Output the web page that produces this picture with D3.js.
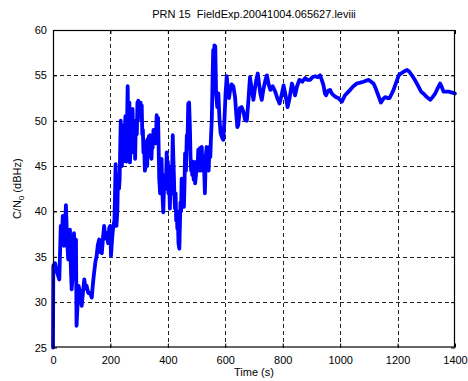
<!DOCTYPE html>
<html>
<head>
<meta charset="utf-8">
<script src="https://cdn.jsdelivr.net/npm/d3@7"></script>
<style>
  html, body { margin: 0; padding: 0; background: #fff; }
  svg { display: block; font-family: "Liberation Sans", Arial, Helvetica, sans-serif; }
</style>
</head>
<body>
<svg id="chart" width="468" height="381"></svg>
<script>
// Carrier-to-noise density over time for one satellite
const timeS = [
  0, 1, 7, 12, 15, 22, 27, 31, 34, 38, 42, 45, 49, 53, 56, 59, 62, 65, 69, 73,
  76, 80, 82, 86, 89, 92, 96, 100, 104, 109, 113, 117, 123, 129, 135, 139, 143, 148, 152, 156,
  161, 165, 170, 174, 178, 183, 187, 192, 196, 199,
  202, 206, 210, 214, 216, 218, 220, 221, 224, 226, 228, 230, 232, 234, 236, 238, 240, 242, 244, 246,
  248, 250, 252, 254, 256, 258, 260, 262, 264, 266, 268, 270, 272, 275, 277, 279, 281, 284, 286, 288,
  290, 292, 294, 297, 300, 302, 305, 307, 309, 311, 313, 315, 317, 320, 323, 326, 328, 330, 332, 334,
  336, 338, 340, 343, 345, 347, 350, 352, 356, 358, 361, 364, 366, 368, 370, 373, 375, 378, 381, 384,
  387, 390, 393, 396, 398, 400, 402, 404, 407, 409, 412, 414, 417, 419, 421, 423, 425, 427, 429, 431,
  433, 435, 437, 440, 442, 444, 446, 448, 450, 452, 454, 456, 458, 460, 463, 466, 468, 471, 474, 477,
  479, 481, 483, 485, 488, 490, 493, 495, 498, 500, 503, 506, 508, 510, 512, 514, 516, 518, 520, 522,
  524, 526, 529, 532, 535, 538, 540, 542, 545, 548, 550, 553, 556, 558, 560, 562, 565,
  568, 572, 576, 580, 584, 588, 593, 597, 601, 605, 609, 613, 617, 622, 628, 634, 638, 642, 645, 651,
  657, 663, 669, 675, 680, 686, 692, 698, 703, 708, 713, 718, 722, 727, 733, 740, 745, 751, 757, 765,
  774, 781, 789, 796, 803, 810, 817, 824, 832, 838, 843, 850, 858, 868, 878, 886, 895, 904, 913, 922,
  930, 936, 942, 947, 951, 958, 965, 971, 977, 985, 994, 1000, 1006, 1012, 1017, 1026, 1035, 1046, 1058, 1070,
  1081, 1090, 1099, 1108, 1116, 1122, 1128, 1135, 1142, 1150, 1157, 1165, 1172, 1180, 1186, 1195, 1204, 1212, 1221, 1233,
  1241, 1250, 1262, 1273, 1282, 1290, 1302, 1314, 1322, 1331, 1340, 1348, 1354, 1360, 1369, 1378, 1390, 1400
];
const cn0 = [
  25, 34, 34.3, 33.5, 33.2, 32.5, 38.4, 37, 39.5, 36.2, 38.5, 40.7, 37, 34.7, 36.5, 38, 34, 31.4, 33, 37.6,
  35, 36.9, 27.4, 30, 31.8, 31.4, 30.5, 29.6, 31, 32.5, 31.5, 31.8, 31, 31, 30.5, 32, 33.2, 34.5, 35.1, 36.3,
  36.9, 35.5, 35.4, 37, 38.4, 37, 37.6, 36.5, 38.2, 38.4,
  35.1, 37, 38.4, 39, 42, 45.2, 41, 38.4, 40, 43, 44, 42.5, 43.5, 47, 50, 46, 45, 49.5, 47.5, 45.5,
  49, 47, 50.5, 48, 45.5, 50, 53.8, 50, 48, 52, 45.4, 47, 49, 46.5, 51.3, 49, 47.5, 50, 45.8, 49,
  50, 48.5, 52, 52.2, 50.5, 51, 52, 50, 51.7, 48.5, 49, 46.5, 47.8, 44.5, 45, 46.5, 45, 48, 46, 48.3,
  47, 48.4, 46.5, 45.8, 48, 47, 49, 48.5, 49, 47.5, 50.6, 49, 50.3, 47, 43.6, 42, 44, 45.8, 42, 39.9,
  43, 44, 42.5, 46.5, 44, 45.5, 42, 44, 40.3, 43, 45, 42, 48.4, 46, 44, 41.5, 40.3, 42, 39, 40,
  38.1, 39, 36.5, 35.9, 38.5, 41, 40, 43.6, 41.5, 42.9, 41, 40.5, 43, 46.4, 44.5, 48.4, 47, 51.9, 52, 49,
  46, 44.5, 45.5, 44, 45.5, 43.5, 44.5, 43.1, 44, 45.5, 44.5, 46.8, 44.5, 45, 47, 46.5, 44.5, 47.1, 45.5, 46,
  44.5, 45, 42, 46, 47.1, 45, 46, 44.5, 47.1, 46, 48, 50.1, 55, 57.8, 55, 58.3, 58.2,
  53, 51.5, 53, 50, 48.6, 48.2, 47.9, 50, 53, 54.9, 53.5, 52.5, 53.4, 54, 53.8, 52.6, 50.8, 49.3, 49.5, 51.4,
  51.5, 51, 50.1, 50, 52, 54.8, 53.5, 52.3, 53.5, 54.5, 55.2, 54, 53, 52.3, 53.5, 54.5, 55, 54, 53.4, 53.8,
  53.2, 52.5, 51.9, 52.8, 53.9, 52.8, 51.5, 52.5, 54.1, 53.5, 52.8, 53.8, 54.5, 54.3, 54.7, 54.5, 54.5, 54.8, 54.9, 54.8,
  55, 54.5, 53.9, 53, 52.8, 53.3, 53.4, 53, 52.8, 52.6, 52.5, 52.3, 52.1, 52.5, 52.8, 53.1, 53.4, 53.8, 54.1, 54.2,
  54.3, 54.4, 54.5, 54.3, 54.1, 53.7, 53.2, 52.6, 52, 52.4, 52.6, 52.5, 52.5, 53, 53.4, 54.2, 55, 55.2, 55.4, 55.6,
  55.4, 55, 54.4, 53.75, 53.2, 53, 52.6, 52.3, 52.6, 53, 53.6, 54.1, 53.7, 53.2, 53.2, 53.2, 53.1, 53
];
const xTicks = [0, 200, 400, 600, 800, 1000, 1200, 1400];
const yTicks = [25, 30, 35, 40, 45, 50, 55, 60];
const titleText = "PRN 15  FieldExp.20041004.065627.leviii";

const svg = d3.select("#chart");
const m = { left: 53, right: 455, top: 30, bottom: 347.5 };

const x = d3.scaleLinear().domain([0, 1400]).range([m.left, m.right]);
const y = d3.scaleLinear().domain([25, 60]).range([m.bottom, m.top]);

// dashed grid
const grid = svg.append("g").attr("stroke", "#222").attr("stroke-width", 1)
  .attr("stroke-dasharray", "4,3").attr("shape-rendering", "crispEdges");
grid.selectAll("line.gx").data(xTicks.slice(1, -1)).join("line")
  .attr("x1", d => Math.round(x(d)) + 0.5).attr("x2", d => Math.round(x(d)) + 0.5)
  .attr("y1", m.top).attr("y2", m.bottom);
grid.selectAll("line.gy").data(yTicks.slice(1, -1)).join("line")
  .attr("y1", d => Math.round(y(d)) + 0.5).attr("y2", d => Math.round(y(d)) + 0.5)
  .attr("x1", m.left).attr("x2", m.right);

// data trace
const line = d3.line().x((d, i) => x(timeS[i])).y(d => y(d));
svg.append("path")
  .datum(cn0)
  .attr("d", line)
  .attr("fill", "none")
  .attr("stroke", "#0000ff")
  .attr("stroke-width", 3.8)
  .attr("stroke-linejoin", "round")
  .attr("stroke-linecap", "round");

// axes (ticks pointing inward)
const fmt = d3.format("d");
svg.append("g").attr("transform", `translate(0,${m.bottom})`)
  .call(d3.axisBottom(x).tickValues(xTicks).tickFormat(fmt).tickSizeInner(-4).tickSizeOuter(0).tickPadding(9));
svg.append("g").attr("transform", `translate(${m.left},0)`)
  .call(d3.axisLeft(y).tickValues(yTicks).tickFormat(fmt).tickSizeInner(-4).tickSizeOuter(0).tickPadding(6));
svg.append("g").attr("transform", `translate(0,${m.top})`)
  .call(d3.axisTop(x).tickValues(xTicks).tickFormat("").tickSizeInner(-4).tickSizeOuter(0));
svg.append("g").attr("transform", `translate(${m.right},0)`)
  .call(d3.axisRight(y).tickValues(yTicks).tickFormat("").tickSizeInner(-4).tickSizeOuter(0));

svg.selectAll(".domain").remove();
svg.selectAll(".tick text").attr("font-size", 11).attr("fill", "#000")
  .attr("font-family", "'Liberation Sans', Arial, sans-serif");
svg.selectAll(".tick line").attr("stroke", "#000");

// frame
svg.append("rect")
  .attr("x", m.left + 0.5).attr("y", m.top + 0.5)
  .attr("width", m.right - m.left - 1).attr("height", m.bottom - m.top - 1)
  .attr("fill", "none").attr("stroke", "#000").attr("stroke-width", 1.2);

// title and labels
svg.append("text")
  .attr("x", (m.left + m.right) / 2).attr("y", 18)
  .attr("text-anchor", "middle").attr("font-size", 11)
  .style("white-space", "pre")
  .text(titleText);

svg.append("text")
  .attr("x", (m.left + m.right) / 2).attr("y", 376)
  .attr("text-anchor", "middle").attr("font-size", 11)
  .text("Time (s)");

const yl = svg.append("text")
  .attr("transform", `translate(21,${(m.top + m.bottom) / 2}) rotate(-90)`)
  .attr("text-anchor", "middle").attr("font-size", 11);
yl.append("tspan").text("C/N");
yl.append("tspan").attr("font-size", 8).attr("dy", 3).text("0");
yl.append("tspan").attr("dy", -3).text(" (dBHz)");
</script>
</body>
</html>
